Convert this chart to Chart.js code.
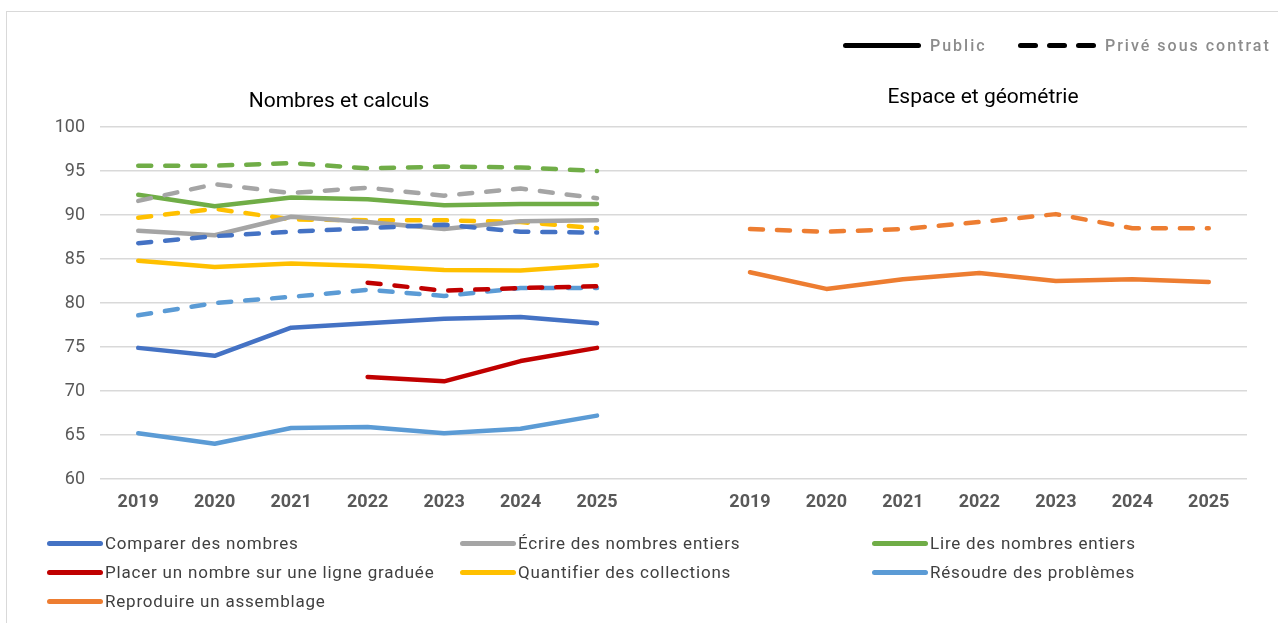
<!DOCTYPE html>
<html lang="fr">
<head>
<meta charset="utf-8">
<script src="https://cdn.jsdelivr.net/npm/chart.js@4"></script>
<style>
    html, body { margin: 0; padding: 0; background: #fff; }
    body { width: 1278px; height: 623px; position: relative; overflow: hidden; font-family: Roboto, "Liberation Sans", sans-serif; }
    #frame { position: absolute; left: 6px; top: 11px; width: 1300px; height: 700px; border: 1.5px solid #d9d9d9; }
    #chartBox { position: absolute; left: 0; top: 0; width: 1278px; height: 623px; }
    .top-legend { position: absolute; top: 35px; font-size: 16px; color: #8c8c8c; font-weight: 500; letter-spacing: 2px; }
    .top-legend .item { position: absolute; white-space: nowrap; display: flex; align-items: center; height: 20px; }
    .sample { display: inline-flex; justify-content: space-between; width: 78px; margin-right: 9px; }
    .sample i { display: block; height: 5px; background: #000; border-radius: 3px; }
    .bottom-legend .item { position: absolute; display: flex; align-items: center; font-size: 17px; letter-spacing: 0.8px; color: #404040; white-space: nowrap; }
    .bottom-legend .swatch { width: 56px; height: 5px; border-radius: 3px; margin-right: 2px; }
</style>
</head>
<body>
<div id="frame"></div>
<div id="chartBox"><canvas id="scoresChart" width="1278" height="623"></canvas></div>
<div id="topLegend" class="top-legend"></div>
<div id="bottomLegend" class="bottom-legend"></div>

<script>
// Years, left block then an empty slot, then right block
const years = ['2019', '2020', '2021', '2022', '2023', '2024', '2025'];
const labels = [...years, '', ...years];

// Nombres et calculs - public / privé sous contrat
const comparerPublic = [74.9, 74.0, 77.2, 77.7, 78.2, 78.4, 77.7];
const comparerPrive = [86.8, 87.6, 88.1, 88.5, 88.9, 88.1, 88.0];
const ecrirePublic = [88.2, 87.7, 89.8, 89.2, 88.4, 89.3, 89.4];
const ecrirePrive = [91.6, 93.5, 92.5, 93.1, 92.2, 93.0, 91.9];
const lirePublic = [92.3, 91.0, 92.0, 91.8, 91.1, 91.25, 91.25];
const lirePrive = [95.6, 95.6, 95.9, 95.3, 95.5, 95.4, 95.0];
const placerPublic = [null, null, null, 71.6, 71.1, 73.4, 74.9];
const placerPrive = [null, null, null, 82.3, 81.4, 81.7, 81.9];
const quantifierPublic = [84.8, 84.1, 84.5, 84.2, 83.75, 83.7, 84.3];
const quantifierPrive = [89.7, 90.7, 89.5, 89.4, 89.4, 89.2, 88.5];
const resoudrePublic = [65.2, 64.0, 65.8, 65.9, 65.2, 65.7, 67.2];
const resoudrePrive = [78.6, 80.0, 80.7, 81.5, 80.8, 81.7, 81.7];

// Espace et géométrie
const reproduirePublic = [83.5, 81.6, 82.7, 83.4, 82.5, 82.7, 82.4];
const reproduirePrive = [88.4, 88.1, 88.4, 89.2, 90.1, 88.5, 88.5];

const yTicks = [60, 65, 70, 75, 80, 85, 90, 95, 100];

const series = [
    { name: 'Comparer des nombres', color: '#4472C4', pub: comparerPublic, priv: comparerPrive, right: false },
    { name: 'Écrire des nombres entiers', color: '#A5A5A5', pub: ecrirePublic, priv: ecrirePrive, right: false },
    { name: 'Lire des nombres entiers', color: '#70AD47', pub: lirePublic, priv: lirePrive, right: false },
    { name: 'Placer un nombre sur une ligne graduée', color: '#C00000', pub: placerPublic, priv: placerPrive, right: false },
    { name: 'Quantifier des collections', color: '#FFC000', pub: quantifierPublic, priv: quantifierPrive, right: false },
    { name: 'Résoudre des problèmes', color: '#5B9BD5', pub: resoudrePublic, priv: resoudrePrive, right: false },
    { name: 'Reproduire un assemblage', color: '#ED7D31', pub: reproduirePublic, priv: reproduirePrive, right: true }
];

// Place a 7-year series in the left or right block of the axis
function placeSeries(values, right) {
    const empty = [null, null, null, null, null, null, null];
    return right ? [...empty, null, ...values] : [...values, null, ...empty];
}

function buildDatasets() {
    const sets = [];
    series.forEach(s => {
        sets.push({
            label: s.name + ' (public)',
            data: placeSeries(s.pub, s.right),
            borderColor: s.color,
            borderWidth: 4.5,
            borderCapStyle: 'round',
            borderJoinStyle: 'round',
            pointRadius: 0,
            tension: 0
        });
        sets.push({
            label: s.name + ' (privé)',
            data: placeSeries(s.priv, s.right),
            borderColor: s.color,
            borderWidth: 4.5,
            borderDash: [13, 14],
            borderCapStyle: 'round',
            borderJoinStyle: 'round',
            pointRadius: 0,
            tension: 0
        });
    });
    return sets;
}

// Panel titles
const panelTitles = {
    id: 'panelTitles',
    afterDraw(chart) {
        const ctx = chart.ctx;
        ctx.save();
        ctx.fillStyle = '#000';
        ctx.font = '21px Roboto';
        ctx.textAlign = 'center';
        ctx.textBaseline = 'middle';
        ctx.fillText('Nombres et calculs', 339, 102);
        ctx.fillText('Espace et géométrie', 983, 98);
        ctx.restore();
    }
};

function initializeChart() {
    const ctx = document.getElementById('scoresChart').getContext('2d');
    new Chart(ctx, {
        type: 'line',
        data: { labels: labels, datasets: buildDatasets() },
        options: {
            responsive: false,
            animation: false,
            layout: { padding: { top: 127, right: 31, bottom: 104, left: 0 } },
            plugins: { legend: { display: false }, tooltip: { enabled: false } },
            scales: {
                x: {
                    offset: true,
                    grid: { display: false, drawTicks: false, offset: true },
                    border: { display: false },
                    ticks: { color: '#595959', font: { family: 'Roboto', size: 18, weight: 'bold' }, padding: 13, maxRotation: 0, autoSkip: false },
                    afterFit: scale => { scale.height = 40; }
                },
                y: {
                    min: 60,
                    max: 100,
                    afterBuildTicks: scale => { scale.ticks = yTicks.map(v => ({ value: v })); },
                    grid: { color: '#d9d9d9', lineWidth: 1.5, drawTicks: false },
                    border: { display: false },
                    ticks: { color: '#595959', font: { family: 'Roboto', size: 18 }, padding: 15 },
                    afterFit: scale => { scale.width = 100; }
                }
            }
        },
        plugins: [panelTitles]
    });
}

function buildLegends() {
    const top = document.getElementById('topLegend');
    top.innerHTML =
        '<div class="item" style="left:843px"><span class="sample"><i style="width:78px"></i></span>Public</div>' +
        '<div class="item" style="left:1018px"><span class="sample"><i style="width:20px"></i><i style="width:20px"></i><i style="width:20px"></i></span>Privé sous contrat</div>';

    const bottom = document.getElementById('bottomLegend');
    const colX = [47, 460, 872];
    const rowY = [533, 562, 591];
    series.forEach((s, i) => {
        const el = document.createElement('div');
        el.className = 'item';
        el.style.left = colX[i % 3] + 'px';
        el.style.top = rowY[Math.floor(i / 3)] + 'px';
        el.innerHTML = '<span class="swatch" style="background:' + s.color + '"></span>' + s.name;
        bottom.appendChild(el);
    });
}

document.addEventListener('DOMContentLoaded', function() {
    initializeChart();
    buildLegends();
});
</script>
</body>
</html>
